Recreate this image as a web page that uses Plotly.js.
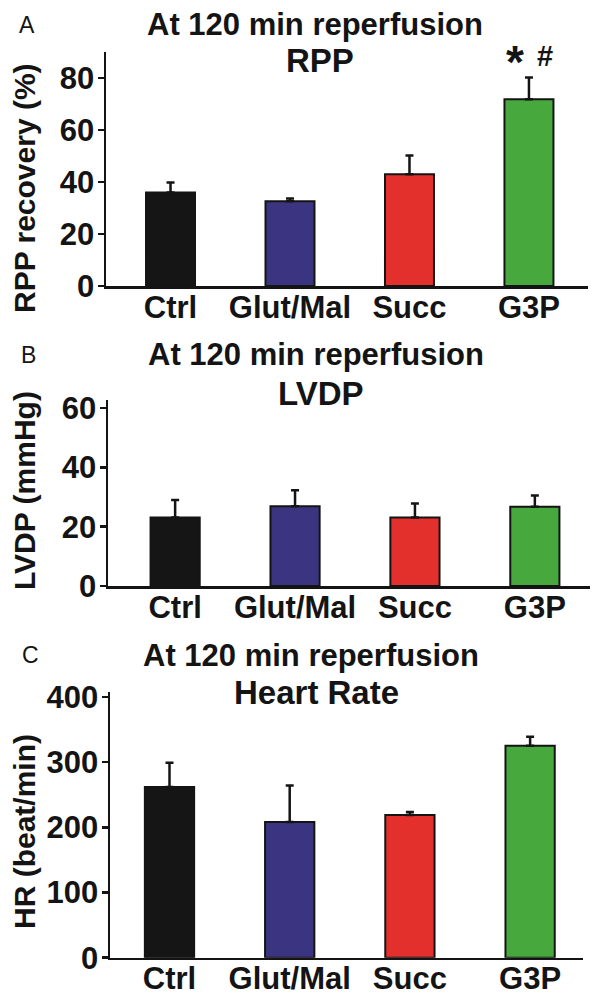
<!DOCTYPE html>
<html>
<head>
<meta charset="utf-8">
<script src="https://cdn.plot.ly/plotly-3.0.1.min.js"></script>
<style>html,body{margin:0;padding:0;background:#fff;}#chart{width:602px;height:1003px;}</style>
</head>
<body>
<div id="chart"></div>
<script>
// ---- data ----
const categories = ["Ctrl", "Glut/Mal", "Succ", "G3P"];
const barColors = ["#151515", "#3b3480", "#e3302c", "#46a83d"];

const rppMean = [36, 32.6, 43, 71.8];
const rppErr  = [3.8, 1.1, 7.2, 8.4];

const lvdpMean = [23.1, 26.9, 23.1, 26.7];
const lvdpErr  = [5.9, 5.4, 4.7, 3.8];

const hrMean = [262, 208, 219, 325];
const hrErr  = [37, 56, 4.5, 14];

const panelLetters = ["A", "B", "C"];
const panelHeader = "At 120 min reperfusion";
const panelNames = ["RPP", "LVDP", "Heart Rate"];
const yTitles = ["RPP recovery (%)", "LVDP (mmHg)", "HR (beat/min)"];
const sigMarks = ["*", "#"];

// ---- layout helpers ----
const W = 602, H = 1003;
const px = v => v / W;
const py = v => 1 - v / H;
const FONT = "Liberation Sans, Arial, Helvetica, sans-serif";
const INK = "#141414";

function barTrace(means, errs, xa, ya) {
  return {
    type: "bar",
    x: categories, y: means,
    xaxis: xa, yaxis: ya,
    width: 0.41,
    marker: { color: barColors, line: { color: INK, width: 2 } },
    error_y: { type: "data", symmetric: false, array: errs, arrayminus: errs.map(() => 0),
               color: INK, thickness: 2.5, width: 4 },
    hoverinfo: "skip", showlegend: false
  };
}

const data = [
  barTrace(rppMean, rppErr, "x", "y"),
  barTrace(lvdpMean, lvdpErr, "x2", "y2"),
  barTrace(hrMean, hrErr, "x3", "y3")
];

function xAxis(dom, rng, anchor) {
  return {
    domain: dom, range: rng, anchor: anchor, type: "category",
    showline: true, linecolor: INK, linewidth: 2.5,
    ticks: "", showgrid: false, zeroline: false,
    tickfont: { family: FONT, size: 31, color: INK, weight: 700 },
    ticklabelstandoff: -8, fixedrange: true
  };
}
function yAxis(dom, rng, dt, anchor) {
  return {
    domain: dom, range: rng, anchor: anchor, dtick: dt, tick0: 0,
    showline: true, linecolor: INK, linewidth: 2.5,
    ticks: "outside", ticklen: 6, tickwidth: 2.5, tickcolor: INK,
    showgrid: false, zeroline: false,
    tickfont: { family: FONT, size: 31, color: INK, weight: 700 },
    ticklabelstandoff: -3, fixedrange: true
  };
}

const titleFont = { family: FONT, size: 31, color: INK, weight: 700 };
const yTitleFont = { family: FONT, size: 30, color: INK, weight: 700 };
const annotations = [];
const headerY = [25, 355, 655];
const nameY = [61, 393, 692];
const headerX = [315, 316, 311];
const nameX = [320, 321, 317];
const letterX = [27, 28, 30];
const yTitleY = [188, 491, 832];
for (let i = 0; i < 3; i++) {
  annotations.push({ xref: "paper", yref: "paper", x: px(letterX[i]), y: py(headerY[i]),
    text: panelLetters[i], showarrow: false, xanchor: "center", yanchor: "middle",
    font: { family: FONT, size: 23, color: INK } });
  annotations.push({ xref: "paper", yref: "paper", x: px(headerX[i]), y: py(headerY[i]),
    text: panelHeader, showarrow: false, xanchor: "center", yanchor: "middle", font: titleFont });
  annotations.push({ xref: "paper", yref: "paper", x: px(nameX[i]), y: py(nameY[i]),
    text: panelNames[i], showarrow: false, xanchor: "center", yanchor: "middle",
    font: { family: FONT, size: 33, color: INK, weight: 700 } });
  annotations.push({ xref: "paper", yref: "paper", x: px(24), y: py(yTitleY[i]),
    text: yTitles[i], showarrow: false, textangle: -90, xanchor: "center", yanchor: "middle",
    font: yTitleFont });
}
// significance marks over G3P in panel A
annotations.push({ xref: "x", yref: "y", x: categories[3], xshift: -14, y: 86, yanchor: "middle",
  text: sigMarks[0], showarrow: false, font: { family: FONT, size: 46, color: INK, weight: 700 } });
annotations.push({ xref: "x", yref: "y", x: categories[3], xshift: 16, y: 88.3, yanchor: "middle",
  text: sigMarks[1], showarrow: false, font: { family: FONT, size: 29, color: INK, weight: 700 } });

const layout = {
  width: W, height: H,
  margin: { l: 0, r: 0, t: 0, b: 0 },
  paper_bgcolor: "#fff", plot_bgcolor: "#fff",
  font: { family: FONT, color: INK },
  xaxis: xAxis([px(106), px(587.5)], [-0.54, 3.49], "y"),
  yaxis: yAxis([py(286), py(52)], [0, 90], 20, "x"),
  xaxis2: xAxis([px(108), px(590)], [-0.56, 3.46], "y2"),
  yaxis2: yAxis([py(586), py(400)], [0, 62.7], 20, "x2"),
  xaxis3: xAxis([px(110), px(583)], [-0.495, 3.44], "y3"),
  yaxis3: yAxis([py(957.7), py(691.7)], [0, 408], 100, "x3"),
  annotations: annotations,
  bargap: 0.5
};

Plotly.newPlot("chart", data, layout, { staticPlot: true, displayModeBar: false });
</script>
</body>
</html>
